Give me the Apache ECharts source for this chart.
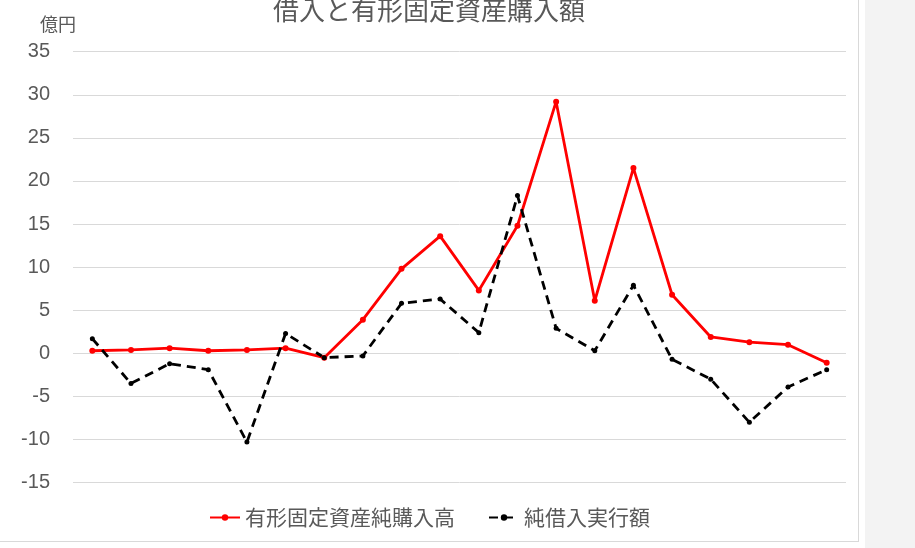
<!DOCTYPE html>
<html>
<head>
<meta charset="utf-8">
<script src="https://cdn.jsdelivr.net/npm/echarts@6/dist/echarts.min.js"></script>
<style>
html,body{margin:0;padding:0;background:#f3f3f3;}
#bg{position:absolute;left:0;top:0;width:865px;height:548px;background:#fff;}
#frame{position:absolute;left:-1px;top:-1px;width:859px;height:542px;border-right:1px solid #d9d9d9;border-bottom:1px solid #d9d9d9;}
#chart{position:absolute;left:0;top:0;width:915px;height:548px;}
</style>
</head>
<body>
<div id="bg"></div>
<div id="frame"></div>
<div id="chart"></div>
<script>
const categories = ['1','2','3','4','5','6','7','8','9','10','11','12','13','14','15','16','17','18','19','20'];
const purchase = [0.3, 0.4, 0.6, 0.3, 0.4, 0.6, -0.5, 3.9, 9.8, 13.6, 7.3, 14.8, 29.2, 6.1, 21.5, 6.8, 1.9, 1.3, 1.0, -1.1];
const borrowing = [1.7, -3.5, -1.2, -1.9, -10.3, 2.3, -0.5, -0.3, 5.8, 6.3, 2.4, 18.3, 2.9, 0.3, 7.9, -0.7, -3.0, -8.0, -3.9, -1.9];
const seriesNames = ['有形固定資産純購入高', '純借入実行額'];
const titleText = '借入と有形固定資産購入額';
const unitText = '億円';

const textColor = '#595959';
const cjk = '"Noto Sans CJK JP", "Noto Sans", sans-serif';
const chart = echarts.init(document.getElementById('chart'));
chart.setOption({
  animation: false,
  backgroundColor: 'transparent',
  title: {
    text: titleText,
    left: 268,
    top: -8,
    textStyle: {color: textColor, fontSize: 26, fontWeight: 'normal', fontFamily: cjk}
  },
  graphic: [{
    type: 'text',
    left: 40,
    top: 15,
    style: {text: unitText, fill: textColor, fontSize: 18, fontFamily: cjk}
  }],
  legend: {
    left: 204,
    top: 502,
    itemWidth: 30,
    itemHeight: 8,
    itemGap: 33,
    textStyle: {color: textColor, fontSize: 21, fontFamily: cjk},
    data: seriesNames
  },
  grid: {left: 73, right: 69, top: 51.7, bottom: 65.4, containLabel: false},
  xAxis: {
    type: 'category',
    data: categories,
    boundaryGap: true,
    axisLine: {show: false},
    axisTick: {show: false},
    axisLabel: {show: false},
    splitLine: {show: false}
  },
  yAxis: {
    type: 'value',
    min: -15,
    max: 35,
    interval: 5,
    axisLine: {show: false},
    axisTick: {show: false},
    axisLabel: {color: textColor, fontSize: 20, margin: 23, fontFamily: '"Liberation Sans", Arial, sans-serif'},
    splitLine: {lineStyle: {color: '#d9d9d9', width: 1}}
  },
  series: [
    {
      name: seriesNames[0],
      type: 'line',
      data: purchase,
      symbol: 'circle',
      symbolSize: 6,
      itemStyle: {color: '#ff0000'},
      lineStyle: {color: '#ff0000', width: 2.8}
    },
    {
      name: seriesNames[1],
      type: 'line',
      data: borrowing,
      symbol: 'circle',
      symbolSize: 5,
      itemStyle: {color: '#000000'},
      lineStyle: {color: '#000000', width: 2.8, type: [9, 6]}
    }
  ]
});
</script>
</body>
</html>
